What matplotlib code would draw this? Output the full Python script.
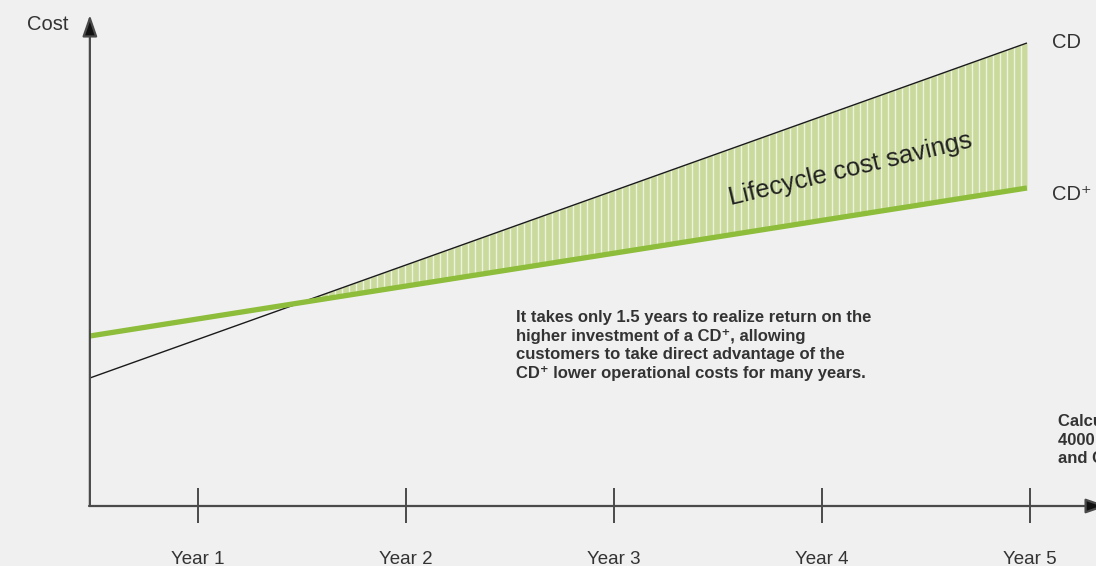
import numpy as np
import matplotlib
matplotlib.use("Agg")
import matplotlib.pyplot as plt

# ---- data ----
years = [1, 2, 3, 4, 5]
year_labels = ["Year 1", "Year 2", "Year 3", "Year 4", "Year 5"]
x_span = [0.48, 4.985]          # start / end of both cost lines (years)
cost_cd = [128, 463]            # CD cost at start / end
cost_cdplus = [170, 318]        # CD+ cost at start / end
series_labels = ["CD", "CD\u207a"]

BG = "#f0f0f0"
GREEN = "#8dbd3a"
FILL = "#c9da9c"
TXT = "#333333"
AX = "#4a4a4a"

plt.rcParams["font.family"] = ["Liberation Sans", "DejaVu Sans"]

fig = plt.figure(figsize=(10.96, 5.66), dpi=100, facecolor=BG)
ax = fig.add_axes([0, 0, 1, 1])
ax.set_facecolor(BG)
ax.set_xlim(0.048, 5.317)
ax.set_ylim(-60, 506)
ax.axis("off")

# intersection of the two lines
s1 = (cost_cd[1] - cost_cd[0]) / (x_span[1] - x_span[0])
s2 = (cost_cdplus[1] - cost_cdplus[0]) / (x_span[1] - x_span[0])
xi = x_span[0] + (cost_cdplus[0] - cost_cd[0]) / (s1 - s2)

xs = np.linspace(xi, x_span[1], 200)
y_top = np.interp(xs, x_span, cost_cd)
y_bot = np.interp(xs, x_span, cost_cdplus)
ax.fill_between(xs, y_bot, y_top, color=FILL, lw=0, zorder=1)
# vertical stripes of the shaded area
step = 7 / 208.0
sx = np.arange(xi + step, x_span[1] - step / 2, step)
ax.vlines(sx, np.interp(sx, x_span, cost_cdplus), np.interp(sx, x_span, cost_cd),
          color="#eef3e0", lw=1.0, zorder=2)

ax.plot(x_span, cost_cd, color="#1a1a1a", lw=1.0, zorder=4, solid_capstyle="butt")
ax.plot(x_span, cost_cdplus, color=GREEN, lw=3.8, zorder=4, solid_capstyle="butt")

# axes with arrows
ax.annotate("", xy=(x_span[0], 491), xytext=(x_span[0], 0),
            arrowprops=dict(arrowstyle="-|>,head_length=1.3,head_width=0.45",
                            lw=1.6, color=AX, fc="#111111", shrinkA=0, shrinkB=0),
            annotation_clip=False, zorder=5)
ax.annotate("", xy=(5.37, 0), xytext=(x_span[0] - 0.004, 0),
            arrowprops=dict(arrowstyle="-|>,head_length=1.3,head_width=0.45",
                            lw=1.6, color=AX, fc="#111111", shrinkA=0, shrinkB=0),
            annotation_clip=False, zorder=5)
ax.vlines(years, -17, 18, color=AX, lw=1.4, zorder=5)
for x, lab in zip(years, year_labels):
    ax.text(x, -53, lab, ha="center", va="center", fontsize=13.5, color=TXT)

ax.text(0.279, 481, "Cost", ha="center", va="center", fontsize=14.5, color=TXT)
ax.text(5.106, cost_cd[1], series_labels[0], ha="left", va="center", fontsize=14.5, color=TXT)
ax.text(5.106, cost_cdplus[1] - 6, series_labels[1], ha="left", va="center", fontsize=14.5, color=TXT)

ax.text(4.138, 337, "Lifecycle cost savings", ha="center", va="center",
        rotation=13.5, rotation_mode="anchor", fontsize=18.5, color="#222222", zorder=6)

ax.text(2.529, 196,
        "It takes only 1.5 years to realize return on the\n"
        "higher investment of a CD\u207a, allowing\n"
        "customers to take direct advantage of the\n"
        "CD\u207a lower operational costs for many years.",
        ha="left", va="top", fontsize=12.0, fontweight="bold", color=TXT,
        linespacing=1.3)

ax.text(5.135, 92, "Calculated on\n4000 hours\nand Cost",
        ha="left", va="top", fontsize=12.0, fontweight="bold", color=TXT,
        linespacing=1.3)

fig.savefig("out.png", dpi=100, facecolor=BG)
